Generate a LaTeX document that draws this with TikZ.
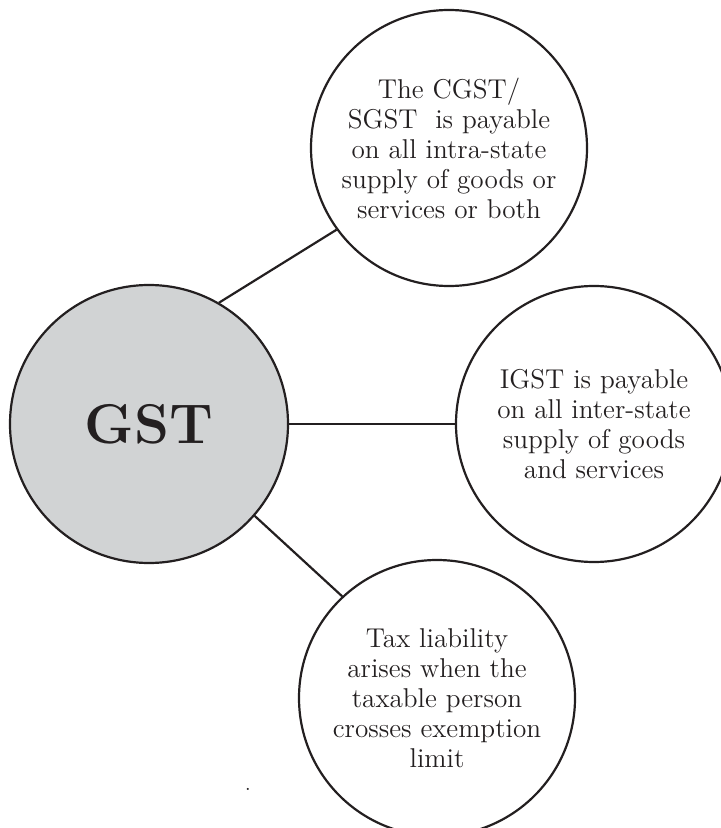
\documentclass[tikz,border=0pt]{standalone}
\usepackage{fontspec}
\definecolor{inkblack}{HTML}{231F20}
\definecolor{gstgray}{HTML}{D1D3D4}
\def\bubblesize{138pt}

\begin{document}
\begin{tikzpicture}[x=0.5pt,y=-0.5pt,draw=inkblack,text=inkblack,line width=1.1pt]
	\tikzstyle{bubble}=[circle,draw,minimum size=\bubblesize,inner sep=0pt,align=center,font=\fontsize{13.6}{15}\selectfont]
	\tikzstyle{main bubble}=[bubble, fill=gstgray, minimum size=139pt, font=\fontsize{28}{32}\selectfont\bfseries]
	\tikzstyle{link}=[draw=inkblack]

	\useasboundingbox (0,0) rectangle (721,828);

	% Draw the GST node
	\node[main bubble] (GST) at (149,424) {GST};

	% Draw the three outer nodes
	\node[bubble] (CGST) at (449,148) {The CGST/\\SGST~ is payable\\on all intra-state\\supply of goods or\\services or both};
	\node[bubble] (IGST) at (594,424) {IGST is payable\\on all inter-state\\supply of goods\\and services};
	\node[bubble] (TAX) at (437,698) {Tax liability\\arises when the\\taxable person\\crosses exemption\\limit};

	% Connect the GST node with the outer nodes
	\path[link] (GST.60) edge (CGST.216);
	\path[link] (GST) edge (IGST);
	\path[link] (GST.-41) edge (TAX.133);

	% Stray mark below
	\node[inner sep=0pt] (stray) at (248,789) {.};

\end{tikzpicture}
\end{document}
